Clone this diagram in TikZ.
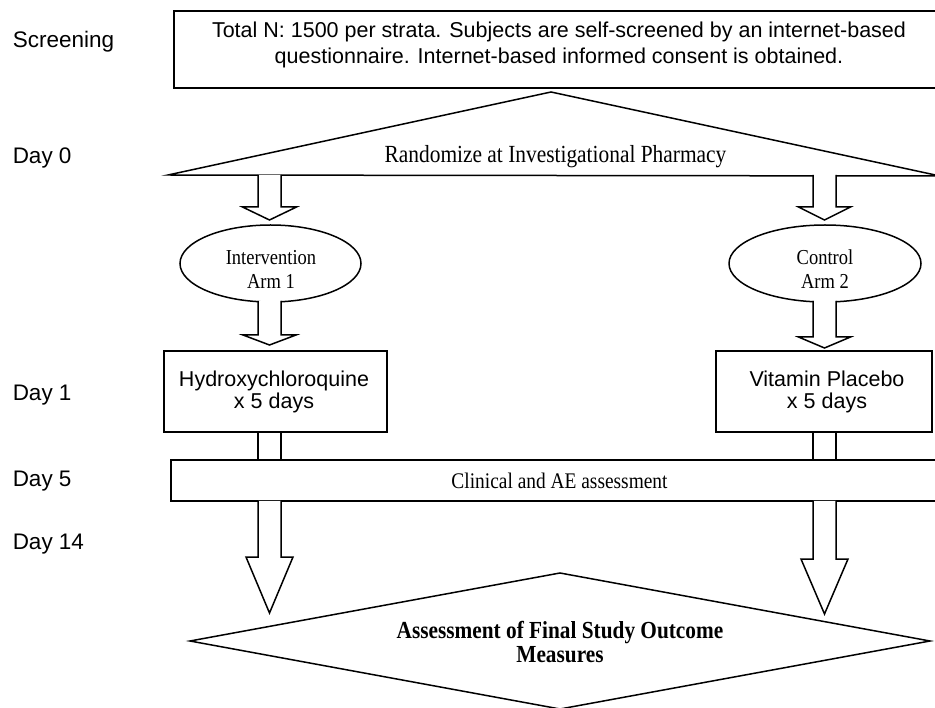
\documentclass[tikz,border=0pt]{standalone}
\usepackage{fontspec}
\usepackage{graphicx}
\setmainfont{Liberation Serif}
\setsansfont{Liberation Sans}
\usetikzlibrary{shapes.geometric}
\newcommand\blockarr[6]{% x, ytop, yneck, ytip, halfshaft, halfhead
  \draw[fill=white] (#1-#5,#2) -- (#1-#5,#3) -- (#1-#6,#3) -- (#1,#4) -- (#1+#6,#3) -- (#1+#5,#3) -- (#1+#5,#2);}
\newcommand\vstr[1]{\scalebox{1}[1.15]{#1}}
\begin{document}
\begin{tikzpicture}[x=1pt,y=-1pt,line width=1.5pt,line join=miter,
  lbl/.style={font=\fontsize{22.5}{26}\selectfont\sffamily,anchor=base west,inner sep=0pt},
  sanstxt/.style={font=\fontsize{21.5}{26}\selectfont\sffamily,align=center,inner sep=0pt},
  sanstxtb/.style={font=\fontsize{21.5}{22.5}\selectfont\sffamily,align=center,inner sep=0pt},
  seriftxt/.style={font=\fontsize{21.4}{24}\selectfont\rmfamily,align=center,inner sep=0pt},
  clintxt/.style={font=\fontsize{19.4}{24}\selectfont\rmfamily,align=center,inner sep=0pt},
  elltxt/.style={font=\fontsize{18.5}{24}\selectfont\rmfamily,align=center,inner sep=0pt},
  boldtxt/.style={font=\fontsize{21.3}{23.5}\selectfont\rmfamily\bfseries,align=center,inner sep=0pt},
  ellshape/.style={draw,fill=white,ellipse,inner sep=0pt}]
\useasboundingbox (0,0) rectangle (935,708);
\fill[white] (0,0) rectangle (935,708);
\clip (0,0) rectangle (935,708);

% left labels
\node[lbl] (lscr) at (12,48) {Screening};
\node[lbl] (ld0) at (12,164) {Day 0};
\node[lbl] (ld1) at (12,401) {Day 1};
\node[lbl] (ld5) at (12,487) {Day 5};
\node[lbl] (ld14) at (12,550) {Day 14};

% screening box
\draw (174,11) rectangle (945,88);
\node[sanstxt] (scrtxt) at (559,44.5) {Total N: 1500 per strata. Subjects are self-screened by an internet-based\\questionnaire. Internet-based informed consent is obtained.};

% randomize triangle
\draw (168,175) -- (551,92) -- (940,176) -- cycle;
\node[seriftxt] (rand) at (555.5,157) {\vstr{Randomize at Investigational Pharmacy}};

% arrows from triangle to arms
\blockarr{269.5}{175}{207}{220}{11.5}{27}
\blockarr{824.5}{175}{207}{220}{11.5}{26}

% arms
\node[ellshape,minimum width=181,minimum height=77] (arm1) at (270.5,263.5) {};
\node[elltxt] (arm1t) at (271,269.5) {\vstr{Intervention}\\\vstr{Arm 1}};
\node[ellshape,minimum width=192,minimum height=77] (arm2) at (825,263.5) {};
\node[elltxt] (arm2t) at (825,269.5) {\vstr{Control}\\\vstr{Arm 2}};

% arrows arms to treatment
\blockarr{269.5}{301}{335}{345}{11.5}{26.5}
\blockarr{824.5}{301}{337}{348}{11.5}{26}

% treatment boxes
\draw (164,351) rectangle (387,432);
\node[sanstxtb] (hcq) at (274,392) {Hydroxychloroquine\\x 5 days};
\draw (716,351) rectangle (932,432);
\node[sanstxtb] (plc) at (827,392) {Vitamin Placebo\\x 5 days};

% shafts to day 5
\draw (258,432) -- (258,460) (281,432) -- (281,460);
\draw (813,432) -- (813,460) (836,432) -- (836,460);

% clinical assessment box
\draw (171,460) rectangle (945,501);
\node[clintxt] (clin) at (559.5,481) {\vstr{Clinical and AE assessment}};

% final diamond
\draw[fill=white] (190,641) -- (560,573) -- (930,641) -- (560,709) -- cycle;
\node[boldtxt] (final) at (560,642) {\vstr{Assessment of Final Study Outcome}\\\vstr{Measures}};

% arrows to final
\blockarr{269.5}{501}{557}{613}{11.5}{23.5}
\blockarr{824.5}{501}{559}{614}{11.5}{23.5}
\end{tikzpicture}
\end{document}
